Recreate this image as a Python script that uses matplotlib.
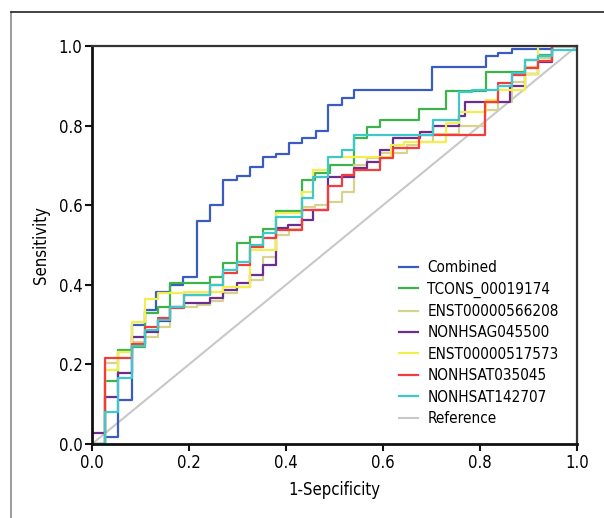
import matplotlib
matplotlib.use("Agg")
import matplotlib.pyplot as plt
from matplotlib import font_manager
from matplotlib.lines import Line2D

# pick a narrow font if there is one
names = {f.name for f in font_manager.fontManager.ttflist}
if "Liberation Sans Narrow" in names:
    plt.rcParams["font.family"] = ["Liberation Sans Narrow", "DejaVu Sans"]
else:
    plt.rcParams["font.family"] = ["DejaVu Sans"]
    plt.rcParams["font.stretch"] = "condensed"

labels = ["Combined", "TCONS_00019174", "ENST00000566208", "NONHSAG045500",
          "ENST00000517573", "NONHSAT035045", "NONHSAT142707"]
colors = ["#3a5cc0", "#3cb44b", "#d6d38e", "#6b2d90", "#f2ee4e", "#f53c3c", "#3fc8c9"]

combined_x = [0, 0.027, 0.054, 0.082, 0.110, 0.133, 0.161, 0.188, 0.216, 0.243, 0.270, 0.298, 0.326, 0.352,
              0.379, 0.407, 0.434, 0.462, 0.487, 0.515, 0.540, 0.702, 0.812, 0.838, 0.865, 0.948, 1.0]
combined_y = [0, 0.017, 0.110, 0.300, 0.337, 0.383, 0.400, 0.420, 0.561, 0.600, 0.663, 0.674, 0.695, 0.720,
              0.729, 0.757, 0.768, 0.787, 0.852, 0.869, 0.889, 0.946, 0.974, 0.982, 0.992, 1.0, 1.0]

tcons_x = [0, 0.027, 0.054, 0.082, 0.110, 0.137, 0.161, 0.243, 0.270, 0.298, 0.326, 0.352, 0.379, 0.434,
           0.460, 0.490, 0.540, 0.566, 0.594, 0.675, 0.730, 0.812, 0.893, 0.920, 0.948, 1.0]
tcons_y = [0, 0.157, 0.236, 0.243, 0.330, 0.345, 0.404, 0.420, 0.454, 0.504, 0.520, 0.540, 0.586, 0.663,
           0.680, 0.701, 0.768, 0.796, 0.814, 0.842, 0.888, 0.935, 0.965, 0.978, 1.0, 1.0]

enst566_x = [0, 0.027, 0.054, 0.082, 0.110, 0.137, 0.161, 0.216, 0.243, 0.270, 0.298, 0.326, 0.352, 0.379,
             0.407, 0.432, 0.460, 0.487, 0.515, 0.540, 0.566, 0.594, 0.649, 0.675, 0.703, 0.757, 0.810,
             0.838, 0.865, 0.893, 0.920, 0.948, 1.0]
enst566_y = [0, 0.203, 0.232, 0.255, 0.270, 0.295, 0.345, 0.350, 0.360, 0.380, 0.395, 0.412, 0.470, 0.525,
             0.540, 0.596, 0.600, 0.609, 0.634, 0.700, 0.718, 0.730, 0.751, 0.760, 0.780, 0.800, 0.840,
             0.860, 0.910, 0.948, 0.969, 1.0, 1.0]

nonhsag_x = [0, 0, 0.027, 0.054, 0.082, 0.110, 0.137, 0.161, 0.190, 0.243, 0.270, 0.298, 0.326, 0.352,
             0.379, 0.404, 0.432, 0.456, 0.487, 0.540, 0.566, 0.594, 0.620, 0.676, 0.703, 0.757, 0.770,
             0.862, 0.893, 0.920, 0.948, 1.0]
nonhsag_y = [0, 0.027, 0.119, 0.178, 0.270, 0.282, 0.310, 0.345, 0.355, 0.367, 0.387, 0.404, 0.425, 0.450,
             0.542, 0.550, 0.563, 0.588, 0.672, 0.693, 0.709, 0.739, 0.768, 0.785, 0.800, 0.824, 0.860,
             0.900, 0.930, 0.960, 1.0, 1.0]

enst517_x = [0, 0.027, 0.054, 0.082, 0.110, 0.137, 0.190, 0.270, 0.326, 0.379, 0.432, 0.456, 0.487, 0.617,
             0.643, 0.730, 0.757, 0.812, 0.838, 0.893, 0.920, 1.0]
enst517_y = [0, 0.186, 0.230, 0.307, 0.364, 0.380, 0.383, 0.395, 0.487, 0.580, 0.634, 0.688, 0.722, 0.751,
             0.760, 0.806, 0.835, 0.864, 0.889, 0.930, 1.0, 1.0]

nonhsat035_x = [0, 0.027, 0.082, 0.110, 0.137, 0.161, 0.190, 0.243, 0.270, 0.298, 0.326, 0.352, 0.379,
                0.432, 0.487, 0.515, 0.540, 0.594, 0.620, 0.675, 0.810, 0.838, 0.865, 0.893, 0.920, 0.948, 1.0]
nonhsat035_y = [0, 0.215, 0.250, 0.295, 0.316, 0.342, 0.374, 0.400, 0.430, 0.450, 0.496, 0.517, 0.538,
                0.588, 0.647, 0.676, 0.688, 0.718, 0.743, 0.776, 0.860, 0.906, 0.927, 0.944, 0.963, 1.0, 1.0]

nonhsat142_x = [0, 0.027, 0.054, 0.082, 0.110, 0.137, 0.161, 0.190, 0.243, 0.270, 0.298, 0.326, 0.352,
                0.379, 0.432, 0.456, 0.487, 0.515, 0.540, 0.703, 0.757, 0.783, 0.838, 0.865, 0.893, 0.920,
                0.948, 1.0]
nonhsat142_y = [0, 0.081, 0.166, 0.245, 0.286, 0.312, 0.345, 0.374, 0.400, 0.437, 0.458, 0.500, 0.529,
                0.571, 0.617, 0.672, 0.720, 0.739, 0.776, 0.814, 0.885, 0.890, 0.900, 0.931, 0.965, 0.976,
                0.990, 1.0]

curves = [(combined_x, combined_y), (tcons_x, tcons_y), (enst566_x, enst566_y),
          (nonhsag_x, nonhsag_y), (enst517_x, enst517_y), (nonhsat035_x, nonhsat035_y),
          (nonhsat142_x, nonhsat142_y)]
ticks = [0.0, 0.2, 0.4, 0.6, 0.8, 1.0]

fig = plt.figure(figsize=(6.04, 5.18), dpi=100)
ax = fig.add_axes([0.1523, 0.1429, 0.8030, 0.7683])

# reference diagonal
ref, = ax.plot([0, 1], [0, 1], color="#c8c8c8", lw=1.5, zorder=1)
handles = []
for (x, y), c in zip(curves, colors):
    h, = ax.step(x, y, where="post", color=c, lw=1.6, zorder=2)
    handles.append(h)
handles.append(ref)

ax.set_xlim(0, 1)
ax.set_ylim(0, 1)
ax.set_xticks(ticks)
ax.set_yticks(ticks)
ax.set_xticklabels([f"{t:.1f}" for t in ticks])
ax.set_yticklabels([f"{t:.1f}" for t in ticks])
ax.tick_params(length=5, width=1.5, labelsize=12, color="#111111", pad=2)
for side in ["left", "bottom"]:
    ax.spines[side].set_linewidth(2)
    ax.spines[side].set_color("#111111")
for side in ["top", "right"]:
    ax.spines[side].set_linewidth(1.6)
    ax.spines[side].set_color("#333333")
ax.set_xlabel("1-Sepcificity", fontsize=12, labelpad=7)
ax.set_ylabel("Sensitivity", fontsize=12, labelpad=6)

ax.legend(handles=handles, labels=labels + ["Reference"], loc="lower right",
          bbox_to_anchor=(0.962, 0.045), frameon=False, fontsize=11, handlelength=1.25,
          handletextpad=0.6, labelspacing=0.42, borderaxespad=0, borderpad=0)

# outer frame (left and top edges of the panel)
fig.add_artist(Line2D([11 / 604, 11 / 604], [0, 1 - 12 / 518], color="#8a8a8a", lw=1.2))
fig.add_artist(Line2D([11 / 604, 1], [1 - 12 / 518, 1 - 12 / 518], color="#222222", lw=1.2))

fig.savefig("out.png", dpi=100)
